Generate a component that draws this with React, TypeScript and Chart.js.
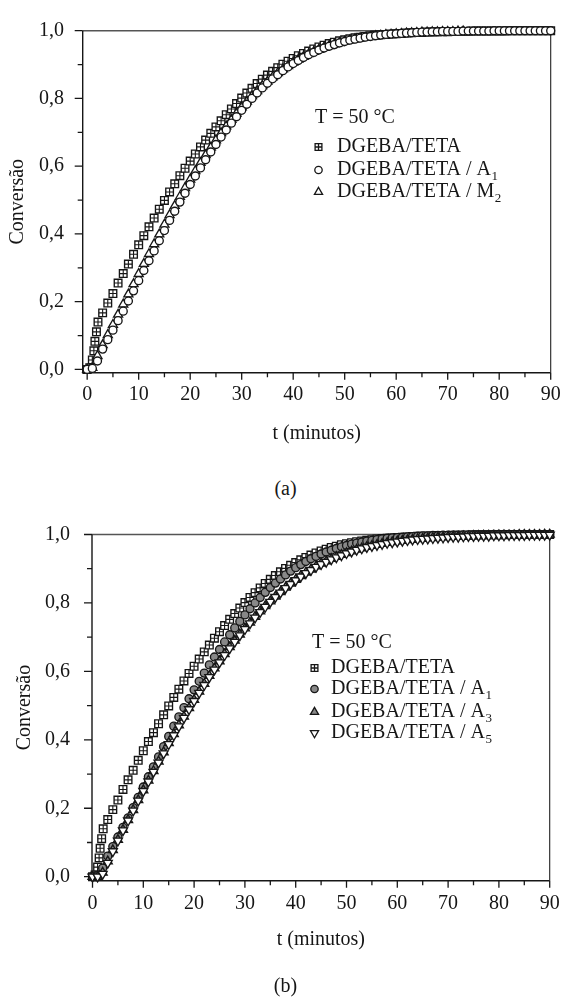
import React, { useEffect, useRef } from "react";
import { Chart, registerables } from "chart.js";
Chart.register(...registerables);

const SERIF = '"Liberation Serif", "Times New Roman", Times, serif';
const INK = "#161616";
const GRAY = "#888888";

// ---------- ticks ----------
const X_TICKS = [0, 10, 20, 30, 40, 50, 60, 70, 80, 90];
const X_TICK_LABELS = ["0", "10", "20", "30", "40", "50", "60", "70", "80", "90"];
const X_MINOR = [5, 15, 25, 35, 45, 55, 65, 75, 85];
const Y_TICKS = [0, 0.2, 0.4, 0.6, 0.8, 1.0];
const Y_TICK_LABELS = ["0,0", "0,2", "0,4", "0,6", "0,8", "1,0"];
const Y_MINOR = [0.1, 0.3, 0.5, 0.7, 0.9];

// ---------- data ----------
const MINUTES = [
  0, 1, 2, 3, 4, 5, 6, 7, 8, 9, 10, 11, 12, 13, 14, 15, 16, 17, 18, 19, 20,
  21, 22, 23, 24, 25, 26, 27, 28, 29, 30, 31, 32, 33, 34, 35, 36, 37, 38, 39, 40,
  41, 42, 43, 44, 45, 46, 47, 48, 49, 50, 51, 52, 53, 54, 55, 56, 57, 58, 59, 60,
  61, 62, 63, 64, 65, 66, 67, 68, 69, 70, 71, 72, 73, 74, 75, 76, 77, 78, 79, 80,
  81, 82, 83, 84, 85, 86, 87, 88, 89, 90,
];

// DGEBA/TETA
const SQ_TIMES = [
  0, 0.5, 1, 1.3, 1.5, 1.8, 2.1,
  3, 4, 5, 6, 7, 8, 9, 10, 11, 12, 13, 14, 15, 16, 17, 18, 19, 20,
  21, 22, 23, 24, 25, 26, 27, 28, 29, 30, 31, 32, 33, 34, 35, 36, 37, 38, 39, 40,
  41, 42, 43, 44, 45, 46, 47, 48, 49, 50, 51, 52, 53, 54, 55, 56, 57, 58, 59, 60,
  61, 62, 63, 64, 65, 66, 67, 68, 69, 70, 71, 72, 73, 74, 75, 76, 77, 78, 79, 80,
  81, 82, 83, 84, 85, 86, 87, 88, 89, 90,
];
const SQ_VALUES = [
  0, 0.005, 0.028, 0.055, 0.083, 0.111, 0.14,
  0.167, 0.196, 0.224, 0.255, 0.283, 0.311, 0.34, 0.368, 0.395, 0.421, 0.447, 0.473, 0.499, 0.524, 0.548, 0.572, 0.594, 0.615,
  0.636, 0.657, 0.677, 0.697, 0.716, 0.734, 0.752, 0.769, 0.785, 0.801, 0.816, 0.83, 0.844, 0.857, 0.869, 0.88, 0.891, 0.901, 0.91, 0.918,
  0.926, 0.933, 0.94, 0.946, 0.952, 0.957, 0.962, 0.966, 0.97, 0.973, 0.976, 0.979, 0.981, 0.983, 0.985, 0.987, 0.988, 0.989, 0.99, 0.991,
  0.992, 0.993, 0.994, 0.995, 0.995, 0.996, 0.996, 0.997, 0.997, 0.997, 0.998, 0.998, 0.998, 0.998, 0.999, 0.999, 0.999, 0.999, 0.999, 0.999,
  0.999, 1, 1, 1, 1, 1, 1, 1, 1, 1,
];

// DGEBA/TETA / A1 (t = 0..90)
const A1_VALUES = [
  0, 0.003, 0.025, 0.06, 0.088, 0.116, 0.144, 0.172, 0.202, 0.232, 0.262,
  0.292, 0.321, 0.35, 0.38, 0.41, 0.44, 0.467, 0.494, 0.52, 0.546,
  0.571, 0.595, 0.619, 0.642, 0.664, 0.686, 0.707, 0.727, 0.746, 0.765,
  0.783, 0.8, 0.816, 0.831, 0.845, 0.858, 0.87, 0.882, 0.893, 0.903,
  0.912, 0.921, 0.929, 0.936, 0.943, 0.949, 0.954, 0.959, 0.964, 0.968,
  0.972, 0.975, 0.978, 0.981, 0.983, 0.985, 0.987, 0.989, 0.99, 0.991,
  0.992, 0.993, 0.994, 0.995, 0.996, 0.996, 0.997, 0.997, 0.998, 0.998,
  0.998, 0.998, 0.999, 0.999, 0.999, 0.999, 0.999, 0.999, 1, 1,
  1, 1, 1, 1, 1, 1, 1, 1, 1, 1,
];

// DGEBA/TETA / M2 (t = 0..73)
const M2_VALUES = [
  0, 0.005, 0.04, 0.072, 0.102, 0.132, 0.162, 0.192, 0.222, 0.252, 0.282,
  0.312, 0.341, 0.37, 0.399, 0.428, 0.456, 0.483, 0.51, 0.536, 0.561,
  0.586, 0.61, 0.633, 0.655, 0.677, 0.698, 0.718, 0.737, 0.756, 0.774,
  0.791, 0.807, 0.822, 0.837, 0.85, 0.863, 0.875, 0.886, 0.896, 0.906,
  0.915, 0.923, 0.931, 0.938, 0.944, 0.95, 0.955, 0.96, 0.964, 0.968,
  0.972, 0.975, 0.978, 0.98, 0.982, 0.984, 0.986, 0.988, 0.989, 0.99,
  0.991, 0.992, 0.993, 0.994, 0.995, 0.995, 0.996, 0.996, 0.997, 0.997,
  0.997, 0.998, 0.998,
];

// DGEBA/TETA / A3 (t = 0..90)
const A3_VALUES = [
  0, 0, 0.012, 0.045, 0.078, 0.108, 0.137, 0.166, 0.195, 0.224, 0.253,
  0.281, 0.309, 0.337, 0.364, 0.391, 0.417, 0.443, 0.468, 0.493, 0.517,
  0.541, 0.564, 0.587, 0.609, 0.63, 0.651, 0.671, 0.69, 0.708, 0.726,
  0.743, 0.76, 0.776, 0.791, 0.805, 0.819, 0.832, 0.845, 0.857, 0.868,
  0.879, 0.889, 0.898, 0.907, 0.915, 0.922, 0.929, 0.935, 0.941, 0.946,
  0.951, 0.956, 0.96, 0.964, 0.967, 0.97, 0.973, 0.976, 0.978, 0.98,
  0.982, 0.984, 0.985, 0.987, 0.988, 0.989, 0.99, 0.991, 0.992, 0.993,
  0.994, 0.994, 0.995, 0.995, 0.996, 0.996, 0.997, 0.997, 0.997, 0.998,
  0.998, 0.998, 0.998, 0.999, 0.999, 0.999, 0.999, 0.999, 1, 1,
];

// DGEBA/TETA / A5 (t = 0..90)
const A5_VALUES = [
  0, 0, 0.008, 0.04, 0.074, 0.105, 0.135, 0.164, 0.193, 0.222, 0.25,
  0.278, 0.306, 0.333, 0.36, 0.387, 0.413, 0.439, 0.464, 0.489, 0.513,
  0.537, 0.56, 0.583, 0.605, 0.626, 0.647, 0.667, 0.686, 0.705, 0.723,
  0.74, 0.757, 0.773, 0.788, 0.803, 0.817, 0.83, 0.843, 0.855, 0.866,
  0.877, 0.887, 0.896, 0.905, 0.913, 0.92, 0.927, 0.933, 0.939, 0.945,
  0.95, 0.955, 0.959, 0.963, 0.966, 0.969, 0.972, 0.975, 0.977, 0.979,
  0.981, 0.983, 0.985, 0.986, 0.987, 0.988, 0.989, 0.99, 0.991, 0.992,
  0.993, 0.993, 0.994, 0.995, 0.995, 0.996, 0.996, 0.996, 0.997, 0.997,
  0.997, 0.998, 0.998, 0.998, 0.998, 0.999, 0.999, 0.999, 0.999, 0.999,
];

const LEGEND_TITLE = "T = 50 °C";
const LEGEND_A = [
  { kind: "sqcross", main: "DGEBA/TETA", sub: "" },
  { kind: "circleOpen", main: "DGEBA/TETA / A", sub: "1" },
  { kind: "triOpen", main: "DGEBA/TETA / M", sub: "2" },
];
const LEGEND_B = [
  { kind: "sqcross", main: "DGEBA/TETA", sub: "" },
  { kind: "circleGray", main: "DGEBA/TETA / A", sub: "1" },
  { kind: "triGray", main: "DGEBA/TETA / A", sub: "3" },
  { kind: "triDownOpen", main: "DGEBA/TETA / A", sub: "5" },
];

// ---------- helpers ----------
const pts = (xs: number[], ys: number[]) => ys.map((y, i) => ({ x: xs[i], y }));

function pointSet(data: any[], style: string, radius: number, fill: string, order: number, rotation = 0, bw = 1.35) {
  return {
    data,
    showLine: false,
    clip: false,
    order,
    pointStyle: style,
    pointRadius: radius,
    pointRotation: rotation,
    pointBackgroundColor: fill,
    pointBorderColor: INK,
    pointBorderWidth: bw,
    backgroundColor: fill,
    borderColor: INK,
  };
}

function squareSets(order: number) {
  const d = pts(SQ_TIMES, SQ_VALUES);
  return [
    pointSet(d, "rect", 5.4, "#ffffff", order + 1, 0, 1.35),
    pointSet(d, "cross", 3.8, "#ffffff", order, 0, 1.1),
  ];
}

function drawMarker(ctx: CanvasRenderingContext2D, kind: string, x: number, y: number) {
  ctx.save();
  ctx.strokeStyle = INK;
  ctx.lineWidth = 1.3;
  if (kind === "sqcross") {
    const s = 3.4;
    ctx.fillStyle = "#fff";
    ctx.beginPath();
    ctx.rect(x - s, y - s, 2 * s, 2 * s);
    ctx.fill();
    ctx.stroke();
    ctx.beginPath();
    ctx.moveTo(x, y - s);
    ctx.lineTo(x, y + s);
    ctx.moveTo(x - s, y);
    ctx.lineTo(x + s, y);
    ctx.stroke();
  } else if (kind === "circleOpen" || kind === "circleGray") {
    ctx.fillStyle = kind === "circleGray" ? GRAY : "#fff";
    ctx.beginPath();
    ctx.arc(x, y, 3.7, 0, Math.PI * 2);
    ctx.fill();
    ctx.stroke();
  } else {
    const r = 4.7;
    const down = kind === "triDownOpen";
    const rad0 = down ? Math.PI : 0;
    ctx.fillStyle = kind === "triGray" ? GRAY : "#fff";
    ctx.beginPath();
    for (let k = 0; k < 3; k++) {
      const a = rad0 + (k * 2 * Math.PI) / 3;
      const px = x + Math.sin(a) * r;
      const py = y - Math.cos(a) * r;
      if (k === 0) ctx.moveTo(px, py);
      else ctx.lineTo(px, py);
    }
    ctx.closePath();
    ctx.fill();
    ctx.stroke();
  }
  ctx.restore();
}

const decorPlugin = {
  id: "decor",
  beforeDatasetsDraw(chart: any) {
    const { ctx, chartArea: ca, scales } = chart;
    const xs = scales.x;
    const ys = scales.y;
    ctx.save();
    // frame
    ctx.strokeStyle = "#555";
    ctx.lineWidth = 1.5;
    ctx.beginPath();
    ctx.moveTo(ca.left, ca.top);
    ctx.lineTo(ca.right, ca.top);
    ctx.stroke();
    ctx.strokeStyle = "#222";
    ctx.lineWidth = 1.1;
    ctx.beginPath();
    ctx.moveTo(ca.right, ca.top);
    ctx.lineTo(ca.right, ca.bottom);
    ctx.stroke();
    ctx.strokeStyle = INK;
    ctx.lineWidth = 1.4;
    ctx.beginPath();
    ctx.moveTo(ca.left, ca.top);
    ctx.lineTo(ca.left, ca.bottom);
    ctx.lineTo(ca.right, ca.bottom);
    ctx.stroke();
    // ticks
    ctx.lineWidth = 1.3;
    ctx.beginPath();
    X_TICKS.forEach((v) => {
      const p = xs.getPixelForValue(v);
      ctx.moveTo(p, ca.bottom);
      ctx.lineTo(p, ca.bottom + 7);
    });
    X_MINOR.forEach((v) => {
      const p = xs.getPixelForValue(v);
      ctx.moveTo(p, ca.bottom);
      ctx.lineTo(p, ca.bottom + 4.5);
    });
    Y_TICKS.forEach((v) => {
      const p = ys.getPixelForValue(v);
      ctx.moveTo(ca.left, p);
      ctx.lineTo(ca.left - 8, p);
    });
    Y_MINOR.forEach((v) => {
      const p = ys.getPixelForValue(v);
      ctx.moveTo(ca.left, p);
      ctx.lineTo(ca.left - 5, p);
    });
    ctx.stroke();
    ctx.restore();
  },
  afterDatasetsDraw(chart: any, _a: any, opts: any) {
    const { ctx } = chart;
    const L = opts.legend;
    if (!L) return;
    ctx.save();
    ctx.fillStyle = INK;
    ctx.textBaseline = "middle";
    ctx.textAlign = "left";
    ctx.font = `20px ${SERIF}`;
    ctx.fillText(LEGEND_TITLE, L.titleX, L.titleY);
    L.items.forEach((it: any, i: number) => {
      const y = L.rowY[i];
      drawMarker(ctx, it.kind, L.markerX, y);
      ctx.font = `20px ${SERIF}`;
      ctx.fillText(it.main, L.textX, y);
      if (it.sub) {
        const w = ctx.measureText(it.main).width;
        ctx.font = `13px ${SERIF}`;
        ctx.fillText(it.sub, L.textX + w + 0.5, y + 7);
      }
    });
    ctx.restore();
  },
};

type PanelCfg = {
  top: number;
  height: number;
  padTop: number;
  padRight: number;
  yWidth: number;
  xHeight: number;
  xMin: number;
  yMin: number;
  xLabelPad: number;
  xTitlePad: number;
  yLabelPad: number;
  yTitlePad: number;
  datasets: any[];
  legend: any;
};

function Panel({ cfg }: { cfg: PanelCfg }) {
  const ref = useRef<HTMLCanvasElement>(null);
  useEffect(() => {
    const font = { family: SERIF, size: 20 };
    const chart = new Chart(ref.current as HTMLCanvasElement, {
      type: "scatter",
      data: { datasets: cfg.datasets },
      options: {
        animation: false,
        responsive: false,
        maintainAspectRatio: false,
        events: [],
        layout: { padding: { left: 0, right: cfg.padRight, top: cfg.padTop, bottom: 0 } },
        plugins: {
          legend: { display: false },
          tooltip: { enabled: false },
          decor: { legend: cfg.legend },
        } as any,
        scales: {
          x: {
            type: "linear",
            position: "bottom",
            min: cfg.xMin,
            max: 90,
            afterBuildTicks: (s: any) => {
              s.ticks = X_TICKS.map((v) => ({ value: v }));
            },
            afterFit: (s: any) => {
              s.height = cfg.xHeight;
            },
            grid: { display: false, drawTicks: false },
            border: { display: false },
            ticks: {
              autoSkip: false,
              maxRotation: 0,
              minRotation: 0,
              padding: cfg.xLabelPad,
              color: INK,
              font,
              callback: (_v: any, i: number) => X_TICK_LABELS[i],
            },
            title: {
              display: true,
              text: "t (minutos)",
              color: INK,
              font,
              padding: { top: 0, bottom: cfg.xTitlePad },
            },
          },
          y: {
            type: "linear",
            position: "left",
            min: cfg.yMin,
            max: 1,
            afterBuildTicks: (s: any) => {
              s.ticks = Y_TICKS.map((v) => ({ value: v }));
            },
            afterFit: (s: any) => {
              s.width = cfg.yWidth;
            },
            grid: { display: false, drawTicks: false },
            border: { display: false },
            ticks: {
              autoSkip: false,
              padding: cfg.yLabelPad,
              color: INK,
              font,
              callback: (_v: any, i: number) => Y_TICK_LABELS[i],
            },
            title: {
              display: true,
              text: "Conversão",
              color: INK,
              font,
              padding: { top: cfg.yTitlePad, bottom: 0 },
            },
          },
        },
      } as any,
      plugins: [decorPlugin as any],
    });
    return () => chart.destroy();
  }, []);
  return (
    <canvas
      ref={ref}
      width={571}
      height={cfg.height}
      style={{ position: "absolute", left: 0, top: cfg.top, width: 571, height: cfg.height }}
    />
  );
}

const PANEL_A: PanelCfg = {
  top: 0,
  height: 460,
  padTop: 14.3,
  padRight: 9.3,
  yWidth: 82.7,
  xHeight: 87.3,
  xMin: -0.87,
  yMin: -0.0096,
  xLabelPad: 10.3,
  xTitlePad: 14,
  yLabelPad: 18.7,
  yTitlePad: 6,
  datasets: [
    ...squareSets(2),
    pointSet(pts(MINUTES, M2_VALUES), "triangle", 5.2, "#ffffff", 1),
    pointSet(pts(MINUTES, A1_VALUES), "circle", 4.0, "#ffffff", 0),
  ],
  legend: { titleX: 315, titleY: 118, markerX: 318.5, textX: 337, rowY: [147, 170, 192], items: LEGEND_A },
};

const PANEL_B: PanelCfg = {
  top: 497,
  height: 500,
  padTop: 37.5,
  padRight: 13.7,
  yWidth: 92,
  xHeight: 116.3,
  xMin: -0.1,
  yMin: -0.0117,
  xLabelPad: 11.3,
  xTitlePad: 45,
  yLabelPad: 22,
  yTitlePad: 12.5,
  datasets: [
    ...squareSets(3),
    pointSet(pts(MINUTES, A1_VALUES), "circle", 4.0, GRAY, 2),
    pointSet(pts(MINUTES, A3_VALUES), "triangle", 5.2, GRAY, 1),
    pointSet(pts(MINUTES, A5_VALUES), "triangle", 5.2, "#ffffff", 0, 180),
  ],
  legend: { titleX: 312, titleY: 146, markerX: 314.5, textX: 331, rowY: [171, 192, 215, 236], items: LEGEND_B },
};

const capStyle = (top: number): React.CSSProperties => ({
  position: "absolute",
  left: 0,
  top,
  width: 571,
  textAlign: "center",
  fontFamily: SERIF,
  fontSize: 20,
  lineHeight: "24px",
  color: INK,
});

export default function App() {
  return (
    <div style={{ position: "absolute", left: 0, top: 0, width: 571, height: 997, background: "#fff" }}>
      <Panel cfg={PANEL_A} />
      <div style={capStyle(476)}>(a)</div>
      <Panel cfg={PANEL_B} />
      <div style={capStyle(973)}>(b)</div>
    </div>
  );
}
